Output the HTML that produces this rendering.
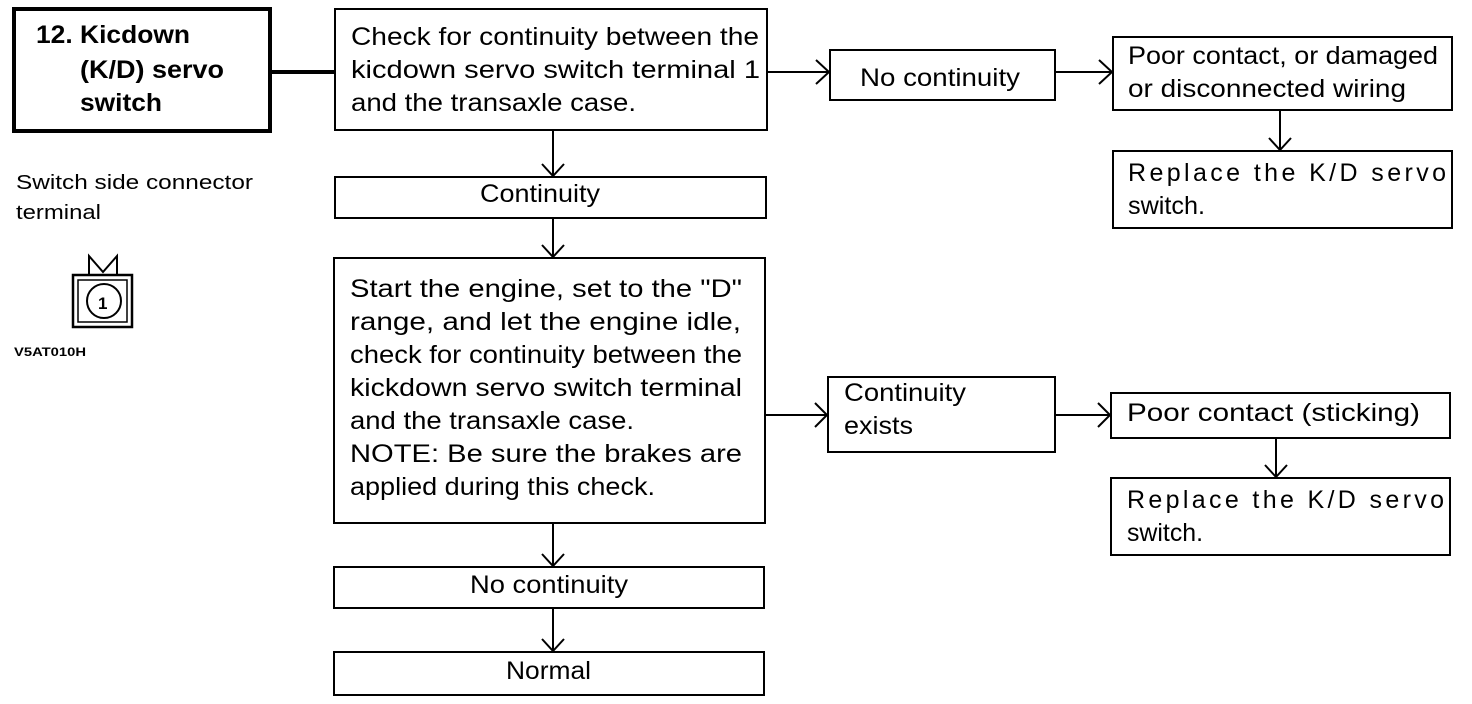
<!DOCTYPE html>
<html><head><meta charset="utf-8"><style>
html,body{margin:0;padding:0;background:#fff;}
svg{display:block;}
text{font-family:"Liberation Sans",sans-serif;font-size:25px;fill:#000;}
.b{font-weight:bold;font-size:25px;}
</style></head><body>
<svg width="1472" height="704" viewBox="0 0 1472 704" xmlns="http://www.w3.org/2000/svg">
<g fill="none" stroke="#000" stroke-width="2">
<rect x="14" y="9" width="256" height="122" stroke-width="4"/>
<line x1="270" y1="72" x2="335" y2="72" stroke-width="4"/>
<rect x="335" y="9" width="432" height="121"/>
<rect x="830" y="50" width="225" height="50"/>
<rect x="1113" y="37" width="339" height="73"/>
<rect x="1113" y="151" width="339" height="77"/>
<rect x="335" y="177" width="431" height="41"/>
<rect x="334" y="258" width="431" height="265"/>
<rect x="828" y="377" width="227" height="75"/>
<rect x="1111" y="393" width="339" height="45"/>
<rect x="1111" y="478" width="339" height="77"/>
<rect x="334" y="567" width="430" height="41"/>
<rect x="334" y="652" width="430" height="43"/>
<line x1="767" y1="72" x2="828" y2="72"/><polyline points="816,60 829,72 816,84"/>
<line x1="1055" y1="72" x2="1111" y2="72"/><polyline points="1099,60 1112,72 1099,84"/>
<line x1="1280" y1="110" x2="1280" y2="150"/><polyline points="1269,138 1280,150 1291,138"/>
<line x1="553" y1="130" x2="553" y2="176"/><polyline points="542,164 553,176 564,164"/>
<line x1="553" y1="218" x2="553" y2="257"/><polyline points="542,245 553,257 564,245"/>
<line x1="765" y1="415" x2="827" y2="415"/><polyline points="815,403 827,415 815,427"/>
<line x1="1055" y1="415" x2="1110" y2="415"/><polyline points="1098,403 1110,415 1098,427"/>
<line x1="1276" y1="438" x2="1276" y2="477"/><polyline points="1265,465 1276,477 1287,465"/>
<line x1="553" y1="523" x2="553" y2="566"/><polyline points="542,554 553,566 564,554"/>
<line x1="553" y1="608" x2="553" y2="651"/><polyline points="542,639 553,651 564,639"/>
<rect x="73" y="275" width="59" height="52" stroke-width="2.5"/>
<rect x="78" y="280" width="49" height="42" stroke-width="1.5"/>
<circle cx="104" cy="301" r="17" stroke-width="2"/>
<polyline points="89,275 89,256 103,272 117,256 117,275" stroke-width="2"/>
</g>
<text class="b" x="36" y="43" textLength="154" lengthAdjust="spacingAndGlyphs">12. Kicdown</text>
<text class="b" x="80" y="78" textLength="144" lengthAdjust="spacingAndGlyphs">(K/D) servo</text>
<text class="b" x="80" y="111" textLength="82" lengthAdjust="spacingAndGlyphs">switch</text>
<text x="16" y="189" style="font-size:20px" textLength="237" lengthAdjust="spacingAndGlyphs">Switch side connector</text>
<text x="16" y="219" style="font-size:20px" textLength="85" lengthAdjust="spacingAndGlyphs">terminal</text>
<text x="98" y="309" style="font-size:17px;font-weight:bold">1</text>
<text x="14" y="356" style="font-size:12px;font-weight:bold" textLength="72" lengthAdjust="spacingAndGlyphs">V5AT010H</text>

<text x="351" y="45" textLength="408" lengthAdjust="spacingAndGlyphs">Check for continuity between the</text>
<text x="351" y="78" textLength="409" lengthAdjust="spacingAndGlyphs">kicdown servo switch terminal 1</text>
<text x="351" y="111" textLength="285" lengthAdjust="spacingAndGlyphs">and the transaxle case.</text>
<text x="860" y="86" textLength="160" lengthAdjust="spacingAndGlyphs">No continuity</text>
<text x="1128" y="64" textLength="310" lengthAdjust="spacingAndGlyphs">Poor contact, or damaged</text>
<text x="1128" y="97" textLength="278" lengthAdjust="spacingAndGlyphs">or disconnected wiring</text>
<text x="1128" y="181" textLength="318" lengthAdjust="spacing">Replace the K/D servo</text>
<text x="1128" y="214" textLength="77" lengthAdjust="spacingAndGlyphs">switch.</text>
<text x="480" y="202" textLength="120" lengthAdjust="spacingAndGlyphs">Continuity</text>
<text x="350" y="297" textLength="392" lengthAdjust="spacingAndGlyphs">Start the engine, set to the "D"</text>
<text x="350" y="330" textLength="391" lengthAdjust="spacingAndGlyphs">range, and let the engine idle,</text>
<text x="350" y="363" textLength="392" lengthAdjust="spacingAndGlyphs">check for continuity between the</text>
<text x="350" y="396" textLength="392" lengthAdjust="spacingAndGlyphs">kickdown servo switch terminal</text>
<text x="350" y="429" textLength="284" lengthAdjust="spacingAndGlyphs">and the transaxle case.</text>
<text x="350" y="462" textLength="392" lengthAdjust="spacingAndGlyphs">NOTE: Be sure the brakes are</text>
<text x="350" y="495" textLength="305" lengthAdjust="spacingAndGlyphs">applied during this check.</text>
<text x="844" y="401" textLength="122" lengthAdjust="spacingAndGlyphs">Continuity</text>
<text x="844" y="434" textLength="69" lengthAdjust="spacingAndGlyphs">exists</text>
<text x="1127" y="421" textLength="293" lengthAdjust="spacingAndGlyphs">Poor contact (sticking)</text>
<text x="1127" y="508" textLength="317" lengthAdjust="spacing">Replace the K/D servo</text>
<text x="1127" y="541" textLength="76" lengthAdjust="spacingAndGlyphs">switch.</text>
<text x="470" y="593" textLength="158" lengthAdjust="spacingAndGlyphs">No continuity</text>
<text x="506" y="679" textLength="85" lengthAdjust="spacingAndGlyphs">Normal</text>
</svg>
</body></html>
